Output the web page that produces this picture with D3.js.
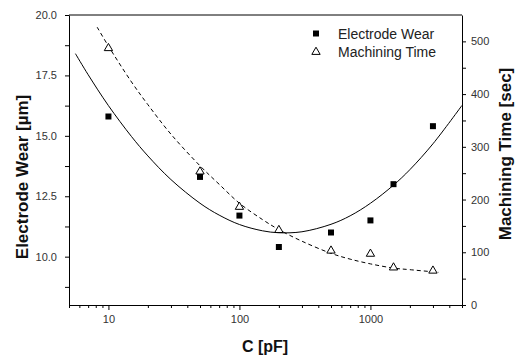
<!DOCTYPE html>
<html>
<head>
<meta charset="UTF-8">
<script src="https://d3js.org/d3.v7.min.js"></script>
<style>
  body { margin: 0; background: #fff; }
  svg { display: block; font-family: 'Liberation Sans', Arial, sans-serif; }
  .tick text { fill: #333; font-size: 11px; }
  .ttl { font-weight: bold; fill: #111; }
</style>
</head>
<body>
<svg id="chart" width="517" height="358"></svg>
<script>
// measured points
const capacitance = [10, 50, 100, 200, 500, 1000, 1500, 3000];
const wearValues = [15.8, 13.3, 11.7, 10.4, 11.0, 11.5, 13.0, 15.4];
const timeValues = [487, 253, 186, 142, 103, 97, 71, 65];

// fitted curves
const wearFitC = [5.6, 7, 10, 15, 20, 30, 50, 70, 100, 150, 200, 300, 500, 700, 1000, 1500, 2000, 3000, 5000];
const wearFitV = [18.4, 17.53, 16.25, 14.97, 14.17, 13.19, 12.21, 11.72, 11.33, 11.07, 10.99, 11.03, 11.34, 11.69, 12.21, 12.96, 13.6, 14.67, 16.26];
const timeFitC = [8.2, 10, 15, 20, 30, 50, 70, 100, 150, 200, 300, 500, 700, 1000, 1500, 2000, 3300];
const timeFitV = [527, 491, 423, 380, 324, 264, 229, 193, 162, 143, 121, 98, 87, 78, 70, 67, 62];

const leftTicks = [10, 12.5, 15, 17.5, 20];
const rightTicks = [0, 100, 200, 300, 400, 500];
const xTicks = [10, 100, 1000];

const margin = {top: 15, right: 55, bottom: 53, left: 69};
const width = 517 - margin.left - margin.right;
const height = 358 - margin.top - margin.bottom;

const svg = d3.select('#chart');
const g = svg.append('g').attr('transform', `translate(${margin.left},${margin.top})`);

const x = d3.scaleLog().domain([5, 5000]).range([0, width]);
const yL = d3.scaleLinear().domain([8, 20]).range([height, 0]);
const yR = d3.scaleLinear().domain([0, 550]).range([height, 0]);

// minor ticks on log axis
const xMinor = [];
[1, 10, 100, 1000].forEach(d => {
  for (let k = 1; k <= 9; k++) {
    const v = d * k;
    if (v >= 5 && v <= 5000 && xTicks.indexOf(v) < 0) xMinor.push(v);
  }
});

g.append('g').attr('transform', `translate(0,${height})`)
  .call(d3.axisBottom(x).tickValues(xMinor).tickSize(3).tickFormat(''))
  .call(a => a.select('.domain').remove());
g.append('g').attr('transform', `translate(0,${height})`)
  .call(d3.axisBottom(x).tickValues(xTicks).tickSize(5).tickSizeOuter(0).tickPadding(5).tickFormat(d3.format('d')));

g.append('g')
  .call(d3.axisLeft(yL).tickValues(d3.range(8.75, 20, 2.5)).tickSize(4).tickFormat(''))
  .call(a => a.select('.domain').remove());
g.append('g')
  .call(d3.axisLeft(yL).tickValues(leftTicks).tickSize(4).tickSizeOuter(0).tickPadding(8).tickFormat(d3.format('.1f')));

g.append('g').attr('transform', `translate(${width},0)`)
  .call(d3.axisRight(yR).tickValues(d3.range(50, 550, 100)).tickSize(4).tickFormat(''))
  .call(a => a.select('.domain').remove());
g.append('g').attr('transform', `translate(${width},0)`)
  .call(d3.axisRight(yR).tickValues(rightTicks).tickSize(4).tickSizeOuter(0).tickPadding(5));

// top frame line
g.append('line').attr('x1', 0).attr('x2', width).attr('y1', 0).attr('y2', 0)
  .attr('stroke', '#000');

g.selectAll('.domain').attr('stroke', '#000');
g.selectAll('.tick line').attr('stroke', '#000');

// fit curves
const wearLine = d3.line().x(d => x(d[0])).y(d => yL(d[1])).curve(d3.curveCatmullRom);
const timeLine = d3.line().x(d => x(d[0])).y(d => yR(d[1])).curve(d3.curveCatmullRom);

g.append('path').datum(d3.zip(wearFitC, wearFitV))
  .attr('d', wearLine).attr('fill', 'none').attr('stroke', '#000').attr('stroke-width', 1);
g.append('path').datum(d3.zip(timeFitC, timeFitV))
  .attr('d', timeLine).attr('fill', 'none').attr('stroke', '#000').attr('stroke-width', 1)
  .attr('stroke-dasharray', '4,3');

const sq = d3.symbol().type(d3.symbolSquare).size(36);
const tri = d3.symbol().type(d3.symbolTriangle).size(30);

g.selectAll('.wear').data(d3.zip(capacitance, wearValues)).join('path')
  .attr('transform', d => `translate(${x(d[0])},${yL(d[1])})`)
  .attr('d', sq).attr('fill', '#000');

g.selectAll('.time').data(d3.zip(capacitance, timeValues)).join('path')
  .attr('transform', d => `translate(${x(d[0])},${yR(d[1])})`)
  .attr('d', tri).attr('fill', '#fff').attr('stroke', '#000').attr('stroke-width', 1);

// legend
const lg = svg.append('g').attr('transform', 'translate(316,0)');
lg.append('path').attr('transform', 'translate(0,33.5)').attr('d', sq).attr('fill', '#000');
lg.append('path').attr('transform', 'translate(0,52)').attr('d', tri)
  .attr('fill', '#fff').attr('stroke', '#000');
lg.append('text').attr('x', 22).attr('y', 38.5).attr('font-size', 14).attr('fill', '#222').text('Electrode Wear');
lg.append('text').attr('x', 22).attr('y', 57).attr('font-size', 14).attr('fill', '#222').text('Machining Time');

// titles
svg.append('text').attr('class', 'ttl').attr('font-size', 16)
  .attr('x', 265).attr('y', 352).attr('text-anchor', 'middle').text('C [pF]');
svg.append('text').attr('class', 'ttl').attr('font-size', 17)
  .attr('transform', 'translate(28,177) rotate(-90)').attr('text-anchor', 'middle')
  .text('Electrode Wear [\u00b5m]');
svg.append('text').attr('class', 'ttl').attr('font-size', 17)
  .attr('transform', 'translate(511,154) rotate(-90)').attr('text-anchor', 'middle')
  .text('Machining Time [sec]');
</script>
</body>
</html>
